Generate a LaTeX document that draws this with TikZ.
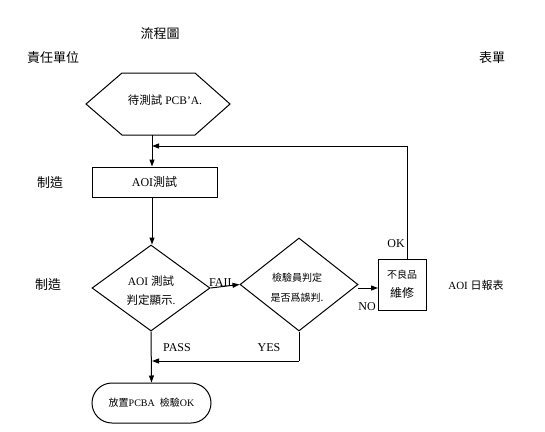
\documentclass[tikz,border=0pt]{standalone}
\usepackage{fontspec}
\setmainfont{Liberation Serif}
\newfontfamily\cjk{Noto Sans CJK TC}
\usetikzlibrary{shapes.geometric,shapes.misc,arrows.meta}
\tikzset{
  line/.style={line width=1pt},
  arr/.style={line width=1pt,-{Triangle[length=7pt,width=5pt]}},
  box/.style={draw,line width=1pt,rectangle,inner sep=0pt,font=\fontsize{12}{14}\selectfont},
  dia/.style={draw,line width=1pt,diamond,inner sep=0pt,align=center,font=\fontsize{11}{19}\selectfont},
  head/.style={font=\cjk\fontsize{13}{15}\selectfont,inner sep=0pt},
  lab/.style={font=\fontsize{12}{14}\selectfont,inner sep=0pt},
}
\begin{document}
\begin{tikzpicture}[x=1pt,y=-1pt]
\useasboundingbox (0,0) rectangle (545,431);
% headings
\node[head] (title) at (160,34) {流程圖};
\node[head] (resp) at (53,58) {責任單位};
\node[head] (form) at (492,58) {表單};
\node[head] (mk1) at (50,183) {制造};
\node[head] (mk2) at (48,285) {制造};
\node[lab,font=\fontsize{11}{13}\selectfont] (rpt) at (476,285) {AOI {\cjk 日報表}};
% start hexagon
\draw[line] (122,73) -- (195,73) -- (230,104) -- (195,135) -- (122,135) -- (86,104) -- cycle;
\node[font=\fontsize{11.5}{13}\selectfont,inner sep=0pt] (start) at (165,100) {{\cjk 待測試} PCB'A.};
\coordinate (hexb) at (152,135);
\coordinate (j1) at (152,146);
% process
\node[box,minimum width=125pt,minimum height=30pt] (aoi) at (154.5,182) {AOI{\cjk 測試}};
\node[dia,minimum width=118pt,minimum height=86pt] (d1) at (151,288) {};
\node[font=\fontsize{11.5}{19}\selectfont,align=center,inner sep=0pt] (d1t) at (151,291) {AOI {\cjk 測試}\\{\cjk 判定顯示}.};
\node[dia,minimum width=118pt,minimum height=93pt] (d2) at (299,284.5) {};
\node[font=\cjk\fontsize{10}{20}\selectfont,align=center,inner sep=0pt] (d2t) at (297,288) {檢驗員判定\\是否爲誤判.};
\node[box,minimum width=48pt,minimum height=51pt,align=center,font=\cjk\fontsize{10}{19}\selectfont] (rep) at (402,284.5) {不良品\\{\fontsize{12}{14}\selectfont 維修}};
\node[draw,line width=1pt,rounded rectangle,minimum width=119pt,minimum height=40pt,inner sep=0pt,font=\fontsize{10}{13}\selectfont] (end) at (151.5,403) {{\cjk 放置}PCBA\ \ {\cjk 檢驗}OK};
\coordinate (j2) at (152,361);
\coordinate (d2b) at (299,361);
\coordinate (repin) at (378,288);
% connectors
\draw[line] (hexb) -- (j1);
\draw[arr] (j1) -- (aoi.north -| j1);
\draw[arr] (aoi.south -| j1) -- (d1.north -| j1);
\draw[arr] (d1.east) -- (d2.west);
\draw[arr] (358,288) -- (repin);
\draw[arr] (rep.north -| 407,0) |- (j1);
\draw[line] (d2.south) -- (d2b);
\draw[arr] (d2b) -- (j2);
\draw[arr] (d1.south) -- (end.north);
% labels
\node[lab] (fail) at (222,283) {FAIL};
\node[lab] (no) at (367,307) {NO};
\node[lab] (ok) at (396,244) {OK};
\node[lab] (pass) at (177,348) {PASS};
\node[lab] (yes) at (269,348) {YES};
\end{tikzpicture}
\end{document}
